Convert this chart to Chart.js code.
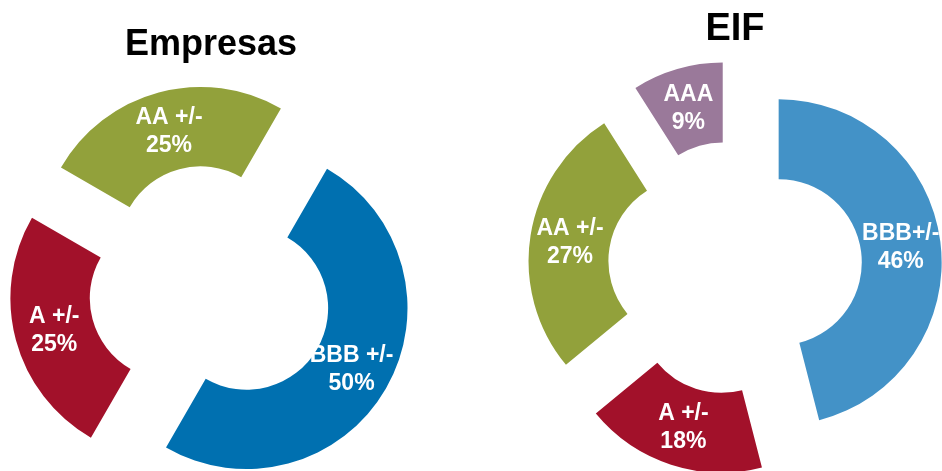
<!DOCTYPE html>
<html>
<head>
<meta charset="utf-8">
<script src="https://cdn.jsdelivr.net/npm/chart.js@4.4.1/dist/chart.umd.min.js"></script>
<style>
  html, body { margin: 0; padding: 0; background: #fff; overflow: hidden; width: 942px; height: 471px; }
  canvas { position: absolute; top: 0; }
  #empresas { left: 0; }
  #eif { left: 528px; }
</style>
</head>
<body>
<canvas id="empresas" width="422" height="509"></canvas>
<canvas id="eif" width="414" height="483"></canvas>
<script>
// data
var empresasLabels = ['BBB +/-', 'A +/-', 'AA +/-'];
var empresasValues = [50, 25, 25];
var empresasColors = ['#0070B0', '#A2112A', '#92A13B'];

var eifLabels = ['BBB+/-', 'A +/-', 'AA +/-', 'AAA'];
var eifValues = [46, 18, 27, 9];
var eifColors = ['#4392C7', '#A2112A', '#92A13B', '#9A799A'];

var FONT = '"Liberation Sans", Arial, sans-serif';

// pull every slice out from the centre along its mid angle
var explodePlugin = {
  id: 'explode',
  afterDatasetsUpdate: function(chart, args, opts) {
    var d = opts.distance || 0;
    chart.getDatasetMeta(0).data.forEach(function(arc) {
      var mid = (arc.startAngle + arc.endAngle) / 2;
      arc.x += Math.cos(mid) * d;
      arc.y += Math.sin(mid) * d;
    });
  }
};

// two line labels inside each slice
var sliceLabels = {
  id: 'sliceLabels',
  afterDatasetsDraw: function(chart) {
    var ctx = chart.ctx;
    var ds = chart.data.datasets[0];
    ctx.save();
    ctx.fillStyle = '#fff';
    ctx.font = 'bold 23px ' + FONT;
    ctx.textAlign = 'center';
    ctx.textBaseline = 'middle';
    chart.getDatasetMeta(0).data.forEach(function(arc, i) {
      var p = arc.tooltipPosition();
      ctx.fillText(chart.data.labels[i], p.x, p.y - 13);
      ctx.fillText(ds.data[i] + '%', p.x, p.y + 15);
    });
    ctx.restore();
  }
};

function makeDoughnut(id, labels, values, colors, title, cfg) {
  var ctx = document.getElementById(id).getContext('2d');
  return new Chart(ctx, {
    type: 'doughnut',
    data: {
      labels: labels,
      datasets: [{
        data: values,
        backgroundColor: colors,
        borderWidth: 0,
        clip: false
      }]
    },
    options: {
      responsive: false,
      animation: false,
      events: [],
      rotation: cfg.rotation,
      radius: cfg.radius,
      cutout: cfg.cutout,
      plugins: {
        legend: { display: false },
        tooltip: { enabled: false },
        title: {
          display: true,
          text: title,
          color: '#000',
          font: { family: FONT, size: cfg.titleSize, weight: 'bold' },
          padding: { top: cfg.titleTop, bottom: 0 }
        },
        explode: { distance: cfg.explode }
      }
    },
    plugins: [explodePlugin, sliceLabels]
  });
}

makeDoughnut('empresas', empresasLabels, empresasValues, empresasColors, 'Empresas', {
  rotation: 30, radius: 161, cutout: '50.7%', explode: 41, titleSize: 36, titleTop: 23
});

makeDoughnut('eif', eifLabels, eifValues, eifColors, 'EIF', {
  rotation: 0, radius: 163, cutout: '51%', explode: 44, titleSize: 38, titleTop: 7
});
</script>
</body>
</html>
